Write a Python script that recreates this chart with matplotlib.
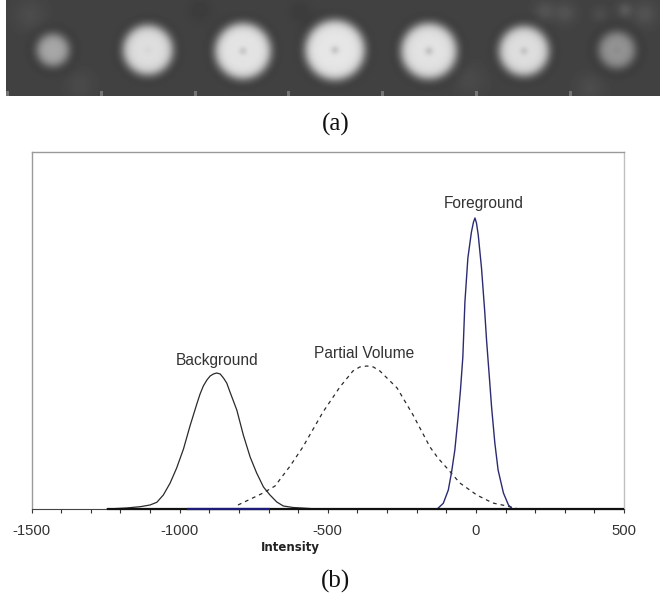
import numpy as np
import matplotlib
matplotlib.use("Agg")
import matplotlib.pyplot as plt

plt.rcParams["axes.unicode_minus"] = False

# --- chart (b) values (height in arbitrary frequency units)
bg_x = [-1245, -1180, -1133, -1100, -1077, -1055, -1032, -1010, -987, -965, -942, -931, -920, -908, -897, -886, -875,
        -863, -852, -841, -830, -807, -785, -762, -740, -717, -695, -672, -650, -617, -560]
bg_y = [0, 1, 2.3, 4, 6.7, 14, 26, 41, 60, 83, 105, 115, 123, 129, 133, 135, 136,
        135, 131, 126, 117, 99, 74, 52, 36, 22, 14, 7, 3, 1.5, 0.5]
pv_x = [-803, -718, -678, -627, -584, -516, -459, -437, -415, -392, -368, -346, -324, -266, -212, -155, -128, -98, -54, 3, 57, 105, 138]
pv_y = [4, 16, 23, 43, 62, 97, 122, 130, 138, 142, 143, 142, 138, 121, 94, 62, 51, 41, 26, 14, 6, 3, 0.5]
fg_x = [-127, -110, -93, -82, -71, -60, -52, -44, -37, -27, -15, -8, -3, 2, 8, 19, 30, 36, 47, 53, 64, 75, 93, 110, 120]
fg_y = [1, 5.7, 19, 37, 59, 92, 119, 152, 207, 251, 277, 287, 291, 286, 274, 241, 197, 169, 126, 102, 66, 39, 16, 4, 1]
base_x = [-1245, 500]
base_y = [0, 0]
blue_x = [-975, -695]
blue_y = [0, 0]
x_ticks = [-1500, -1000, -500, 0, 500]
x_minor = [-1400, -1300, -1200, -1100, -900, -800, -700, -600, -400, -300, -200, -100, 100, 200, 300, 400]
curve_names = ["Background", "Partial Volume", "Foreground"]

# --- strip (a): one disc per tile
disc_cx = [53, 148, 243, 335, 429, 524, 617]
disc_cy = [50, 50, 51, 50, 51, 51, 50]
disc_r = [15, 24, 27, 29, 27, 24, 17]
disc_gray = [168, 222, 228, 230, 226, 222, 148]
dimple = [0, 6, 26, 30, 30, 24, 6]
tile_edges = [6, 100, 194, 287, 381, 475, 569]
patch_x = [545, 565, 625, 645, 600, 30, 80, 200, 300, 470, 590]
patch_y = [11, 13, 10, 14, 14, 15, 85, 10, 12, 80, 88]
patch_s = [7, 7, 5, 8, 5, 10, 9, 10, 9, 10, 9]
patch_a = [16, 16, 22, 16, 10, 10, 8, -6, -6, 8, 10]
strip_bg = 66

fig = plt.figure(figsize=(6.6, 6.0), dpi=100, facecolor="white")

# strip
W, H = 660, 96
ax_img = fig.add_axes([0, (600 - H) / 600, 1, H / 600])
yy, xx = np.mgrid[0:H, 0:W] + 0.5
img = np.full((H, W), float(strip_bg))
for px, py, ps, pa in zip(patch_x, patch_y, patch_s, patch_a):
    img += pa * np.exp(-((xx - px) ** 2 + (yy - py) ** 2) / (2 * ps ** 2))
for cx, cy, r, g, d in zip(disc_cx, disc_cy, disc_r, disc_gray, dimple):
    rr = np.hypot(xx - cx, yy - cy)
    img -= 7 * np.exp(-((rr - r - 8) / 6.0) ** 2)
    mask = 1 / (1 + np.exp((rr - r) / 2.8))
    img = img * (1 - mask) + g * mask
    img -= d * np.exp(-rr ** 2 / 18.0)
for e in tile_edges:
    img[91:96, e:e + 3] += 50
img[:, :6] = 255
ax_img.imshow(np.clip(img, 0, 255), cmap="gray", vmin=0, vmax=255, aspect="auto",
              extent=(0, W, H, 0), interpolation="bilinear")
ax_img.axis("off")

# chart
ax = fig.add_axes([31.5 / 660, (600 - 509) / 600, 592.5 / 660, 357 / 600])
ax.set_xlim(-1500, 500)
ax.set_ylim(0, 357)
for s in ("top", "left"):
    ax.spines[s].set_color("#9a9a9a")
    ax.spines[s].set_linewidth(1.0)
ax.spines["right"].set_color("#c0c0c0")
ax.spines["right"].set_linewidth(1.0)
ax.spines["bottom"].set_color("#444444")
ax.spines["bottom"].set_linewidth(0.8)
ax.set_yticks([])
ax.set_xticks(x_ticks)
ax.set_xticks(x_minor, minor=True)
ax.tick_params(axis="x", which="both", direction="out", length=3.2, width=0.8, color="#333333")
ax.tick_params(axis="x", which="major", pad=7.5, labelsize=10.7, labelcolor="#333333")
for lab in ax.get_xticklabels():
    lab.set_family("Liberation Sans")

ax.plot(base_x, base_y, color="#111111", lw=1.6, clip_on=False, solid_capstyle="butt", zorder=4)
ax.plot(blue_x, blue_y, color="#1c1c78", lw=1.6, clip_on=False, solid_capstyle="butt", zorder=4.1)
ax.plot(bg_x, bg_y, color="#2a2a2a", lw=0.9, zorder=3)
ax.plot(pv_x, pv_y, color="#2a2a2a", lw=0.9, dashes=(3, 3.2), zorder=3)
ax.plot(fg_x, fg_y, color="#2b2b72", lw=1.0, zorder=3)

label_x = [-875, -378, 25]
label_y = [144, 151, 301]
for name, lx, ly in zip(curve_names, label_x, label_y):
    ax.text(lx, ly, name, ha="center", va="baseline", family="Liberation Sans",
            fontsize=11.2, color="#333333")

fig.text(290 / 660, 1 - 547 / 600, "Intensity", ha="center", va="center",
         family="DejaVu Sans", fontweight="bold", fontsize=8.5, color="#222222")
fig.text(336 / 660, 1 - 124 / 600, "(a)", ha="center", va="center",
         family="Liberation Serif", fontsize=18, color="#111111")
fig.text(335 / 660, 1 - 581 / 600, "(b)", ha="center", va="center",
         family="Liberation Serif", fontsize=18, color="#111111")

fig.savefig("out.png", dpi=100)
